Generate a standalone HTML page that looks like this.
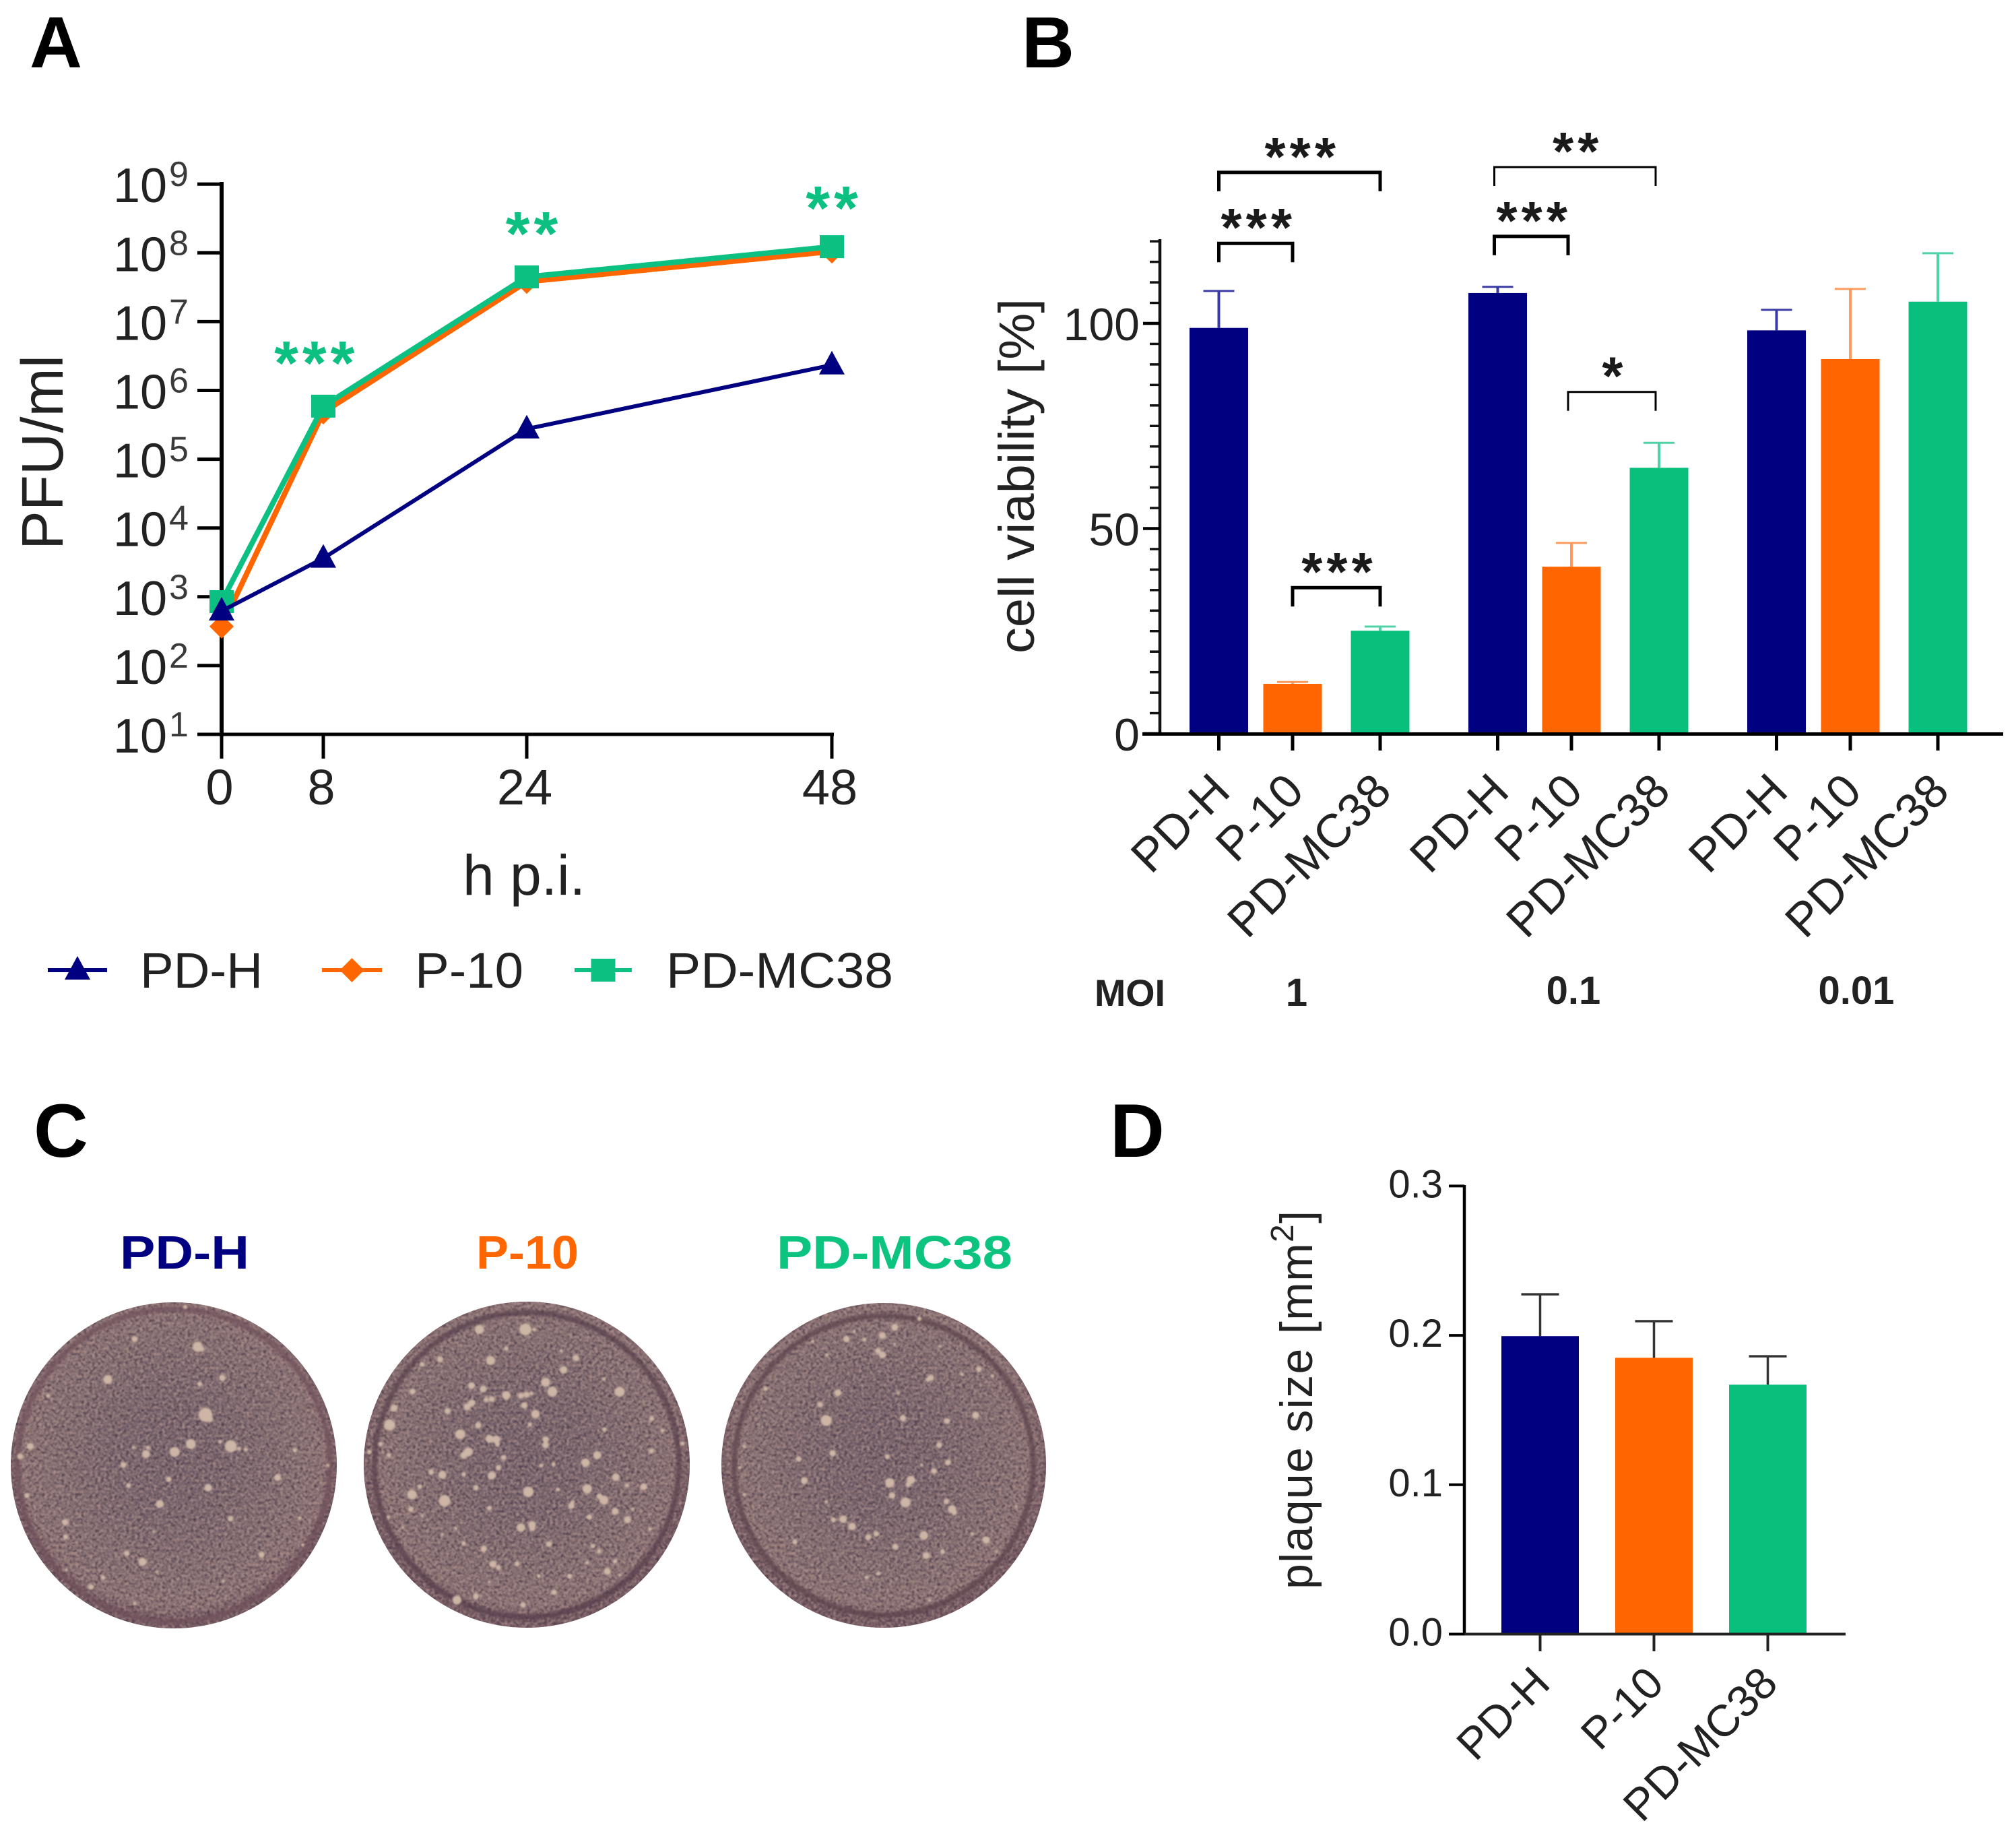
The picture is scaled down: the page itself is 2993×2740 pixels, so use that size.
<!DOCTYPE html>
<html lang="en">
<head>
<meta charset="utf-8">
<title>Viral growth, cell viability and plaque size</title>
<style>
  html, body { margin: 0; padding: 0; background: #fff; }
  svg { display: block; font-family: "Liberation Sans", Arial, sans-serif; }
  text { fill: #222; }
</style>
</head>
<body>
<svg id="figure" xmlns="http://www.w3.org/2000/svg" width="2993" height="2740" viewBox="0 0 2993 2740">
  <defs>
    <radialGradient id="dish-shade" cx="50%" cy="47%" r="50%">
      <stop offset="0%" stop-color="#75646f"/>
      <stop offset="35%" stop-color="#7b6972"/>
      <stop offset="72%" stop-color="#8d7779"/>
      <stop offset="93%" stop-color="#967c7c"/>
      <stop offset="100%" stop-color="#725660"/>
    </radialGradient>
    <filter id="grain" x="0" y="0" width="100%" height="100%" color-interpolation-filters="sRGB">
      <feTurbulence type="fractalNoise" baseFrequency="0.24" numOctaves="2" seed="7" result="t"/>
      <feColorMatrix in="t" type="matrix" values="0 0 0 0 0.30  0 0 0 0 0.23  0 0 0 0 0.28  2.0 0 0 0 -0.66" result="dark"/>
      <feGaussianBlur in="dark" stdDeviation="0.8" result="darkSoft"/>
      <feComposite in="darkSoft" in2="SourceGraphic" operator="in" result="darkIn"/>
      <feColorMatrix in="t" type="matrix" values="0 0 0 0 0.70  0 0 0 0 0.58  0 0 0 0 0.56  0 1.8 0 0 -0.66" result="light"/>
      <feGaussianBlur in="light" stdDeviation="0.8" result="lightSoft"/>
      <feComposite in="lightSoft" in2="SourceGraphic" operator="in" result="lightIn"/>
      <feMerge><feMergeNode in="SourceGraphic"/><feMergeNode in="darkIn"/><feMergeNode in="lightIn"/></feMerge>
    </filter>
    <filter id="soft" x="-20%" y="-20%" width="140%" height="140%"><feGaussianBlur stdDeviation="1.4"/></filter>
    <filter id="rim-soft" x="-5%" y="-5%" width="110%" height="110%"><feGaussianBlur stdDeviation="1.8"/></filter>
  </defs>

  <text x="44" y="100" font-size="108" font-weight="700" style="fill:#000">A</text>
  <text x="1517" y="100" font-size="108" font-weight="700" style="fill:#000">B</text>
  <text x="50" y="1717" font-size="112" font-weight="700" style="fill:#000">C</text>
  <text x="1648" y="1717" font-size="112" font-weight="700" style="fill:#000">D</text>

  <g id="panel-a">
    <text transform="translate(93,816) rotate(-90)" font-size="87" textLength="289" lengthAdjust="spacingAndGlyphs">PFU/ml</text>
    <text x="778" y="1328" font-size="84" text-anchor="middle">h p.i.</text>
  </g>

  <g id="panel-b">
    <text transform="translate(1535,970) rotate(-90)" font-size="74" textLength="527" lengthAdjust="spacingAndGlyphs">cell viability [%]</text>
    <text x="1625" y="1493" font-size="56" font-weight="700" textLength="105" lengthAdjust="spacingAndGlyphs">MOI</text>
  </g>

  <g id="panel-c">
    <text x="274" y="1883" font-size="70" font-weight="700" text-anchor="middle" textLength="192" lengthAdjust="spacingAndGlyphs" style="fill:#000080">PD-H</text>
    <text x="783" y="1883" font-size="70" font-weight="700" text-anchor="middle" textLength="152" lengthAdjust="spacingAndGlyphs" style="fill:#ff6600">P-10</text>
    <text x="1328" y="1883" font-size="70" font-weight="700" text-anchor="middle" textLength="350" lengthAdjust="spacingAndGlyphs" style="fill:#0cc480">PD-MC38</text>
  </g>

  <g id="panel-d">
    <text transform="translate(1948,2359) rotate(-90)" font-size="68" textLength="562">plaque size [mm<tspan dy="-28" font-size="48">2</tspan><tspan dy="28">]</tspan></text>
  </g>
</svg>

<script>
/* ---------- Panel A data ---------- */
const hours = [0, 8, 24, 48];
const titerPDH = [620, 3630, 275000, 2340000];
const titerP10 = [370, 480000, 38000000, 105000000];
const titerMC38 = [850, 590000, 44700000, 123000000];
const logTickExponents = [1, 2, 3, 4, 5, 6, 7, 8, 9];
const growthSigHours = [7.3, 24.4, 48];
const growthSigLog = [6.54, 8.42, 8.79];
const growthSigLabels = ['***', '**', '**'];

/* ---------- Panel B data ---------- */
const moiLabels = ['1', '0.1', '0.01'];
const viabilityCategories = ['PD-H', 'P-10', 'PD-MC38'];
const viabilityPDH = [98.9, 107.4, 98.3];
const viabilityP10 = [12.15, 40.7, 91.3];
const viabilityMC38 = [25.1, 64.8, 105.3];
const viabilityErrPDH = [9, 1.5, 5];
const viabilityErrP10 = [0.45, 5.8, 17.1];
const viabilityErrMC38 = [1, 6.1, 11.8];
const viabilityMajorTicks = [0, 50, 100];
const sigGroup = [0, 0, 0, 1, 1, 1];
const sigFrom = [0, 0, 1, 0, 0, 1];
const sigTo = [2, 1, 2, 2, 1, 2];
const sigLevel = [136.8, 119.5, 35.6, 138.1, 121.2, 83.3];
const sigStars = ['***', '***', '***', '**', '***', '*'];

/* ---------- Panel D data ---------- */
const plaqueCategories = ['PD-H', 'P-10', 'PD-MC38'];
const plaqueSize = [0.1995, 0.185, 0.167];
const plaqueErr = [0.028, 0.0245, 0.019];
const plaqueTicks = [0.0, 0.1, 0.2, 0.3];

/* ---------- Panel C photo speckle (x, y, radius in the dish's 1500-unit frame) ---------- */
const plaquesDish1 = [[795,45,8],[570,188,12],[850,222,20],[870,232,10],[450,368,18],[960,360,13],[860,388,10],[885,525,28],[905,545,12],[820,655,20],[748,690,20],[998,665,24],[1035,675,8],[1065,680,8],[620,700,16],[628,672,8],[565,670,7],[520,748,12],[722,812,11],[543,840,10],[897,850,15],[682,922,16],[1207,805,14],[1283,683,9],[105,665,14],[60,710,12],[90,885,10],[185,440,8],[260,1003,13],[262,1068,10],[535,1142,11],[605,1180,16],[997,988,11],[1135,1148,12],[430,1250,9],[375,1292,11],[1305,985,7],[655,1045,6],[1430,750,7],[950,645,7],[670,1225,6],[265,1215,6],[570,1365,7],[1318,1105,6],[965,1265,6]];
const plaquesDish2 = [[735,145,24],[775,145,8],[530,145,18],[650,230,9],[580,283,18],[355,278,12],[275,300,10],[960,272,13],[905,325,15],[895,240,7],[825,380,18],[855,422,20],[1155,422,20],[1085,365,7],[495,395,14],[547,410,14],[650,438,17],[715,440,12],[740,435,12],[762,430,8],[560,458,10],[585,455,12],[475,490,14],[495,473,14],[505,470,8],[730,483,13],[388,508,12],[780,522,17],[525,572,13],[755,568,9],[445,612,20],[575,632,16],[605,635,16],[610,655,10],[825,635,13],[825,660,13],[480,690,18],[460,705,14],[638,715,11],[1087,590,9],[1297,542,10],[1345,595,8],[130,570,22],[150,495,14],[232,422,12],[90,655,9],[127,705,9],[40,690,9],[1435,652,9],[1297,686,10],[1055,705,16],[1003,738,17],[805,750,8],[860,745,8],[615,760,11],[585,795,16],[315,780,11],[365,792,16],[460,790,9],[1138,803,15],[1187,840,9],[1262,845,14],[515,850,11],[748,868,21],[1010,855,19],[880,858,8],[265,845,9],[230,880,19],[375,908,23],[1065,888,12],[1085,905,18],[940,930,13],[945,915,8],[225,945,11],[575,940,10],[1135,955,14],[1020,980,11],[1190,992,14],[1213,945,6],[715,1027,17],[765,1015,15],[765,1030,12],[125,980,7],[190,1028,6],[425,1030,7],[365,1057,6],[460,1097,9],[840,1100,12],[1035,1110,9],[1063,1132,9],[550,1122,13],[590,1190,14],[615,1205,10],[698,1188,10],[1135,1178,9],[1010,1183,8],[1100,1222,14],[795,1243,8],[932,1243,10],[863,1315,11],[515,1333,12],[430,1350,18],[725,1372,11],[575,1270,6],[1155,1238,6],[1290,1035,7],[275,975,6]];
const plaquesDish3 = [[790,135,14],[735,172,14],[900,97,9],[575,188,13],[655,190,8],[715,240,12],[735,258,14],[610,155,6],[790,210,6],[990,220,6],[425,198,6],[488,258,7],[950,360,13],[938,368,9],[1165,322,11],[1090,345,7],[1225,352,7],[215,410,9],[537,427,14],[805,428,7],[458,480,11],[485,550,22],[490,560,10],[827,540,13],[1023,552,12],[1150,527,14],[988,660,12],[120,665,7],[513,696,13],[757,711,10],[362,722,11],[1027,737,12],[910,747,6],[965,775,12],[100,760,6],[387,818,14],[768,828,19],[862,815,17],[850,835,11],[778,884,13],[838,915,20],[1020,910,11],[1045,945,16],[1055,960,11],[1330,932,6],[120,880,6],[485,912,7],[560,990,15],[517,993,10],[600,1022,15],[672,1070,12],[708,1055,11],[920,1062,17],[1197,1082,15],[1135,1055,7],[345,1090,10],[793,1112,12],[1003,1134,10],[930,1152,14],[1245,1135,6],[665,1250,8],[717,1232,8],[945,1352,6]];

/* ---------- Style constants ---------- */
const NAVY = '#000080', ORANGE = '#ff6600', GREEN = '#08c07c', LINE_GREEN = '#0cc082', INK = '#000', TEXT = '#222';
const NS = 'http://www.w3.org/2000/svg';

function make(parent, tag, attrs, text) {
  const node = document.createElementNS(NS, tag);
  for (const key in attrs) node.setAttribute(key, attrs[key]);
  if (text !== undefined) node.textContent = text;
  parent.appendChild(node);
  return node;
}
function drawLine(parent, name, x1, y1, x2, y2, stroke, width) {
  const el = make(parent, 'line', { x1, y1, x2, y2, stroke, 'stroke-width': width });
  
  
  return el;
}
function drawText(parent, name, x, y, size, anchor, content, fill) {
  const el = make(parent, 'text', { x, y, 'font-size': size, 'text-anchor': anchor }, content);
  if (fill) el.style.fill = fill;
  
  
  return el;
}
function drawStars(parent, name, cx, cy, size, spread, content, fill) {
  const el = make(parent, 'text', { x: cx + spread / 2, y: cy + size * 0.5, 'font-size': size, 'font-weight': 700, 'text-anchor': 'middle', 'letter-spacing': spread }, content);
  el.style.fill = fill;
  
  
  return el;
}
function drawMarker(parent, name, shape, x, y, fill) {
  let d;
  if (shape === 'triangle') d = `M${x} ${y - 21}L${x + 19} ${y + 14}L${x - 19} ${y + 14}Z`;
  else if (shape === 'diamond') d = `M${x} ${y - 18}L${x + 18} ${y}L${x} ${y + 18}L${x - 18} ${y}Z`;
  else d = `M${x - 18} ${y - 17}H${x + 18}V${y + 17}H${x - 18}Z`;
  const el = make(parent, 'path', { d, fill });
  
  
  return el;
}
function drawRotatedLabel(parent, name, x, y, size, content) {
  const el = make(parent, 'text', { x, y, 'font-size': size, 'text-anchor': 'end', transform: `rotate(-45 ${x} ${y})` }, content);
  
  
  return el;
}
function drawBar(parent, name, cx, width, top, base, fill) {
  const el = make(parent, 'rect', { x: cx - width / 2, y: top, width, height: base - top, fill });
  
  
  return el;
}
function drawErrorBar(parent, name, cx, capHalf, top, base, stroke, stemWidth, capWidth) {
  const el = make(parent, 'path', { d: `M${cx} ${base}V${top}`, stroke, 'stroke-width': stemWidth, fill: 'none' });
  
  
  const cap = make(parent, 'path', { d: `M${cx - capHalf} ${top}H${cx + capHalf}`, stroke, 'stroke-width': capWidth, fill: 'none' });
  
  
}

/* ---------- Panel A: growth curves ---------- */
const panelA = document.getElementById('panel-a');
const xA = h => 329 + h * 18.875;
const yLog = e => 1090 - (e - 1) * 102.1;
const yA = v => yLog(Math.log10(v));

drawLine(panelA, 'y-axis-line', 329, 270, 329, 1093, INK, 6);
drawLine(panelA, 'x-axis-line', 326, 1090, 1238, 1090, INK, 5);

logTickExponents.forEach(exp => {
  drawLine(panelA, 'y-tick', 293, yLog(exp), 329, yLog(exp), INK, 5);
  const label = drawText(panelA, 'y-tick-label', 168, yLog(exp) + 27, 72, 'start', '10');
  const power = make(label, 'tspan', { x: 251, dy: -24, 'font-size': 52 }, String(exp));
  power.style.fill = '#3a3a3a';
  
  
});
hours.forEach(h => {
  drawLine(panelA, 'x-tick', xA(h), 1090, xA(h), 1126, INK, 5);
  drawText(panelA, 'x-tick-label', xA(h) - 3, 1194, 74, 'middle', String(h));
});

function drawSeries(name, values, color, width, shape) {
  const points = hours.map((h, i) => `${xA(h)},${yA(values[i])}`).join(' ');
  const line = make(panelA, 'polyline', { points, fill: 'none', stroke: color, 'stroke-width': width, 'stroke-linejoin': 'round' });
  
  
  hours.forEach((h, i) => {
    drawMarker(panelA, name + '-point', shape, xA(h), yA(values[i]), color);
  });
}
drawSeries('series-p-10', titerP10, ORANGE, 8, 'diamond');
drawSeries('series-pd-mc38', titerMC38, LINE_GREEN, 8, 'square');
drawSeries('series-pd-h', titerPDH, NAVY, 6, 'triangle');

growthSigHours.forEach((h, i) => {
  drawStars(panelA, 'significance-stars', xA(h), yLog(growthSigLog[i]), 92, 6, growthSigLabels[i], LINE_GREEN);
});

function legendEntry(label, color, shape, lineX1, lineX2, textX, textWidth) {
  const group = make(panelA, 'g', {});
  
  
  drawLine(group, 'legend-line', lineX1, 1440, lineX2, 1440, color, 6);
  drawMarker(group, 'legend-marker', shape, (lineX1 + lineX2) / 2, 1440, color);
  const t = drawText(group, 'legend-label', textX, 1466, 74, 'start', label);
  t.setAttribute('textLength', textWidth);
  t.setAttribute('lengthAdjust', 'spacingAndGlyphs');
}
legendEntry('PD-H', NAVY, 'triangle', 71, 159, 208, 182);
legendEntry('P-10', ORANGE, 'diamond', 478, 567, 616, 161);
legendEntry('PD-MC38', LINE_GREEN, 'square', 853, 938, 989, 337);

/* ---------- Panel B: cell viability ---------- */
const panelB = document.getElementById('panel-b');
const yB = v => 1089 - v * 6.09;
const xB = (g, s) => 1809.5 + g * 414 + (s === 0 ? 0 : s === 1 ? 109.5 : 239.5);

function drawViabilitySeries(values, errors, color, errColor, slug, s) {
  values.forEach((v, g) => {
    drawBar(panelB, 'bar-' + slug, xB(g, s), 87, yB(v), 1089, color);
    drawErrorBar(panelB, 'error-bar-' + slug, xB(g, s), 23, yB(v + errors[g]), yB(v), errColor, 4, 3);
  });
}
drawViabilitySeries(viabilityPDH, viabilityErrPDH, NAVY, '#3b3ba6', 'pd-h', 0);
drawViabilitySeries(viabilityP10, viabilityErrP10, ORANGE, '#ff9a5e', 'p-10', 1);
drawViabilitySeries(viabilityMC38, viabilityErrMC38, GREEN, '#4fd3a4', 'pd-mc38', 2);

drawLine(panelB, 'y-axis-line', 1722, 355, 1722, 1091, '#111', 4.5);
drawLine(panelB, 'x-axis-line', 1696, 1089.5, 2974, 1089.5, INK, 5);
for (let v = 5; v <= 120; v += 5) {
  if (viabilityMajorTicks.indexOf(v) < 0) drawLine(panelB, 'y-minor-tick', 1707, yB(v), 1722, yB(v), '#111', 3.5);
}
viabilityMajorTicks.forEach(v => {
  drawLine(panelB, 'y-major-tick', 1697, yB(v), 1722, yB(v), INK, 4.5);
  drawText(panelB, 'y-tick-label', 1692, yB(v) + 25, 68, 'end', String(v));
});
moiLabels.forEach((m, g) => {
  viabilityCategories.forEach((c, s) => {
    drawLine(panelB, 'x-tick', xB(g, s), 1089, xB(g, s), 1114, INK, 5);
    drawRotatedLabel(panelB, 'x-tick-label', xB(g, s) + 20, 1178, 70, c);
  });
  drawText(panelB, 'moi-value', 1925 + g * 415.5 - (g === 1 ? 4.5 : 0), g === 0 ? 1493 : 1490, 58, 'middle', m).setAttribute('font-weight', '700');
});
sigGroup.forEach((g, i) => {
  const shift = g === 1 ? -5 : 0;
  const x1 = xB(g, sigFrom[i]) + shift;
  const x2 = xB(g, sigTo[i]) + shift;
  const y = yB(sigLevel[i]);
  const thin = g === 1 && i !== 4;
  const bracket = make(panelB, 'path', { d: `M${x1} ${y + 28}V${y}H${x2}V${y + 28}`, fill: 'none', stroke: INK, 'stroke-width': thin ? 3 : 5 });
  
  
  drawStars(panelB, 'significance-stars', (x1 + x2) / 2 + 1, y - 36, 80, 6, sigStars[i], '#1a1a1a');
});

/* ---------- Panel C: plaque photos ---------- */
const panelC = document.getElementById('panel-c');
function drawDish(slug, cx, cy, r, ringR, ringColor, plaques, originX, originY) {
  const group = make(panelC, 'g', {});
  
  
  const plate = make(group, 'circle', { cx, cy, r, fill: 'url(#dish-shade)', filter: 'url(#grain)' });
  
  
  const ring = make(group, 'circle', { cx, cy, r: ringR, fill: 'none', stroke: ringColor, 'stroke-width': 8, 'stroke-opacity': 0.7, filter: 'url(#rim-soft)' });
  
  
  const spots = make(group, 'g', { filter: 'url(#soft)' });
  
  
  plaques.forEach(p => {
    const spot = make(spots, 'circle', { cx: originX + p[0] / 3, cy: originY + p[1] / 3, r: p[2] * 1.12 / 3, fill: '#cdb6a5' });
    
    
  });
}
drawDish('pd-h', 258, 2175, 242, 232, '#6d505a', plaquesDish1, 10, 1925);
drawDish('p-10', 782, 2174, 242, 226, '#553a49', plaquesDish2, 535, 1925);
drawDish('pd-mc38', 1312, 2175, 241, 222, '#5a3f49', plaquesDish3, 1065, 1925);

/* ---------- Panel D: plaque size ---------- */
const panelD = document.getElementById('panel-d');
const yD = v => 2425.5 - v * 2217;
const xD = i => 2286.5 + i * 169;

plaqueCategories.forEach((c, i) => {
  const fill = [NAVY, ORANGE, GREEN][i];
  drawBar(panelD, 'bar-' + c.toLowerCase(), xD(i), 115, yD(plaqueSize[i]), 2425.5, fill);
  drawErrorBar(panelD, 'error-bar-' + c.toLowerCase(), xD(i), 28, yD(plaqueSize[i] + plaqueErr[i]), yD(plaqueSize[i]), '#333', 3.5, 3.5);
  drawLine(panelD, 'x-tick', xD(i), 2425, xD(i), 2451, '#222', 4);
  drawRotatedLabel(panelD, 'x-tick-label', xD(i) + 18, 2502, 66, c);
});
drawLine(panelD, 'y-axis-line', 2174, 1759, 2174, 2427, INK, 4.5);
drawLine(panelD, 'x-axis-line', 2151, 2425.5, 2740, 2425.5, '#222', 4);
plaqueTicks.forEach(v => {
  drawLine(panelD, 'y-tick', 2151, yD(v), 2174, yD(v), INK, 4);
  drawText(panelD, 'y-tick-label', 2142, yD(v) + 17, 58, 'end', v.toFixed(1));
});
</script>
</body>
</html>
